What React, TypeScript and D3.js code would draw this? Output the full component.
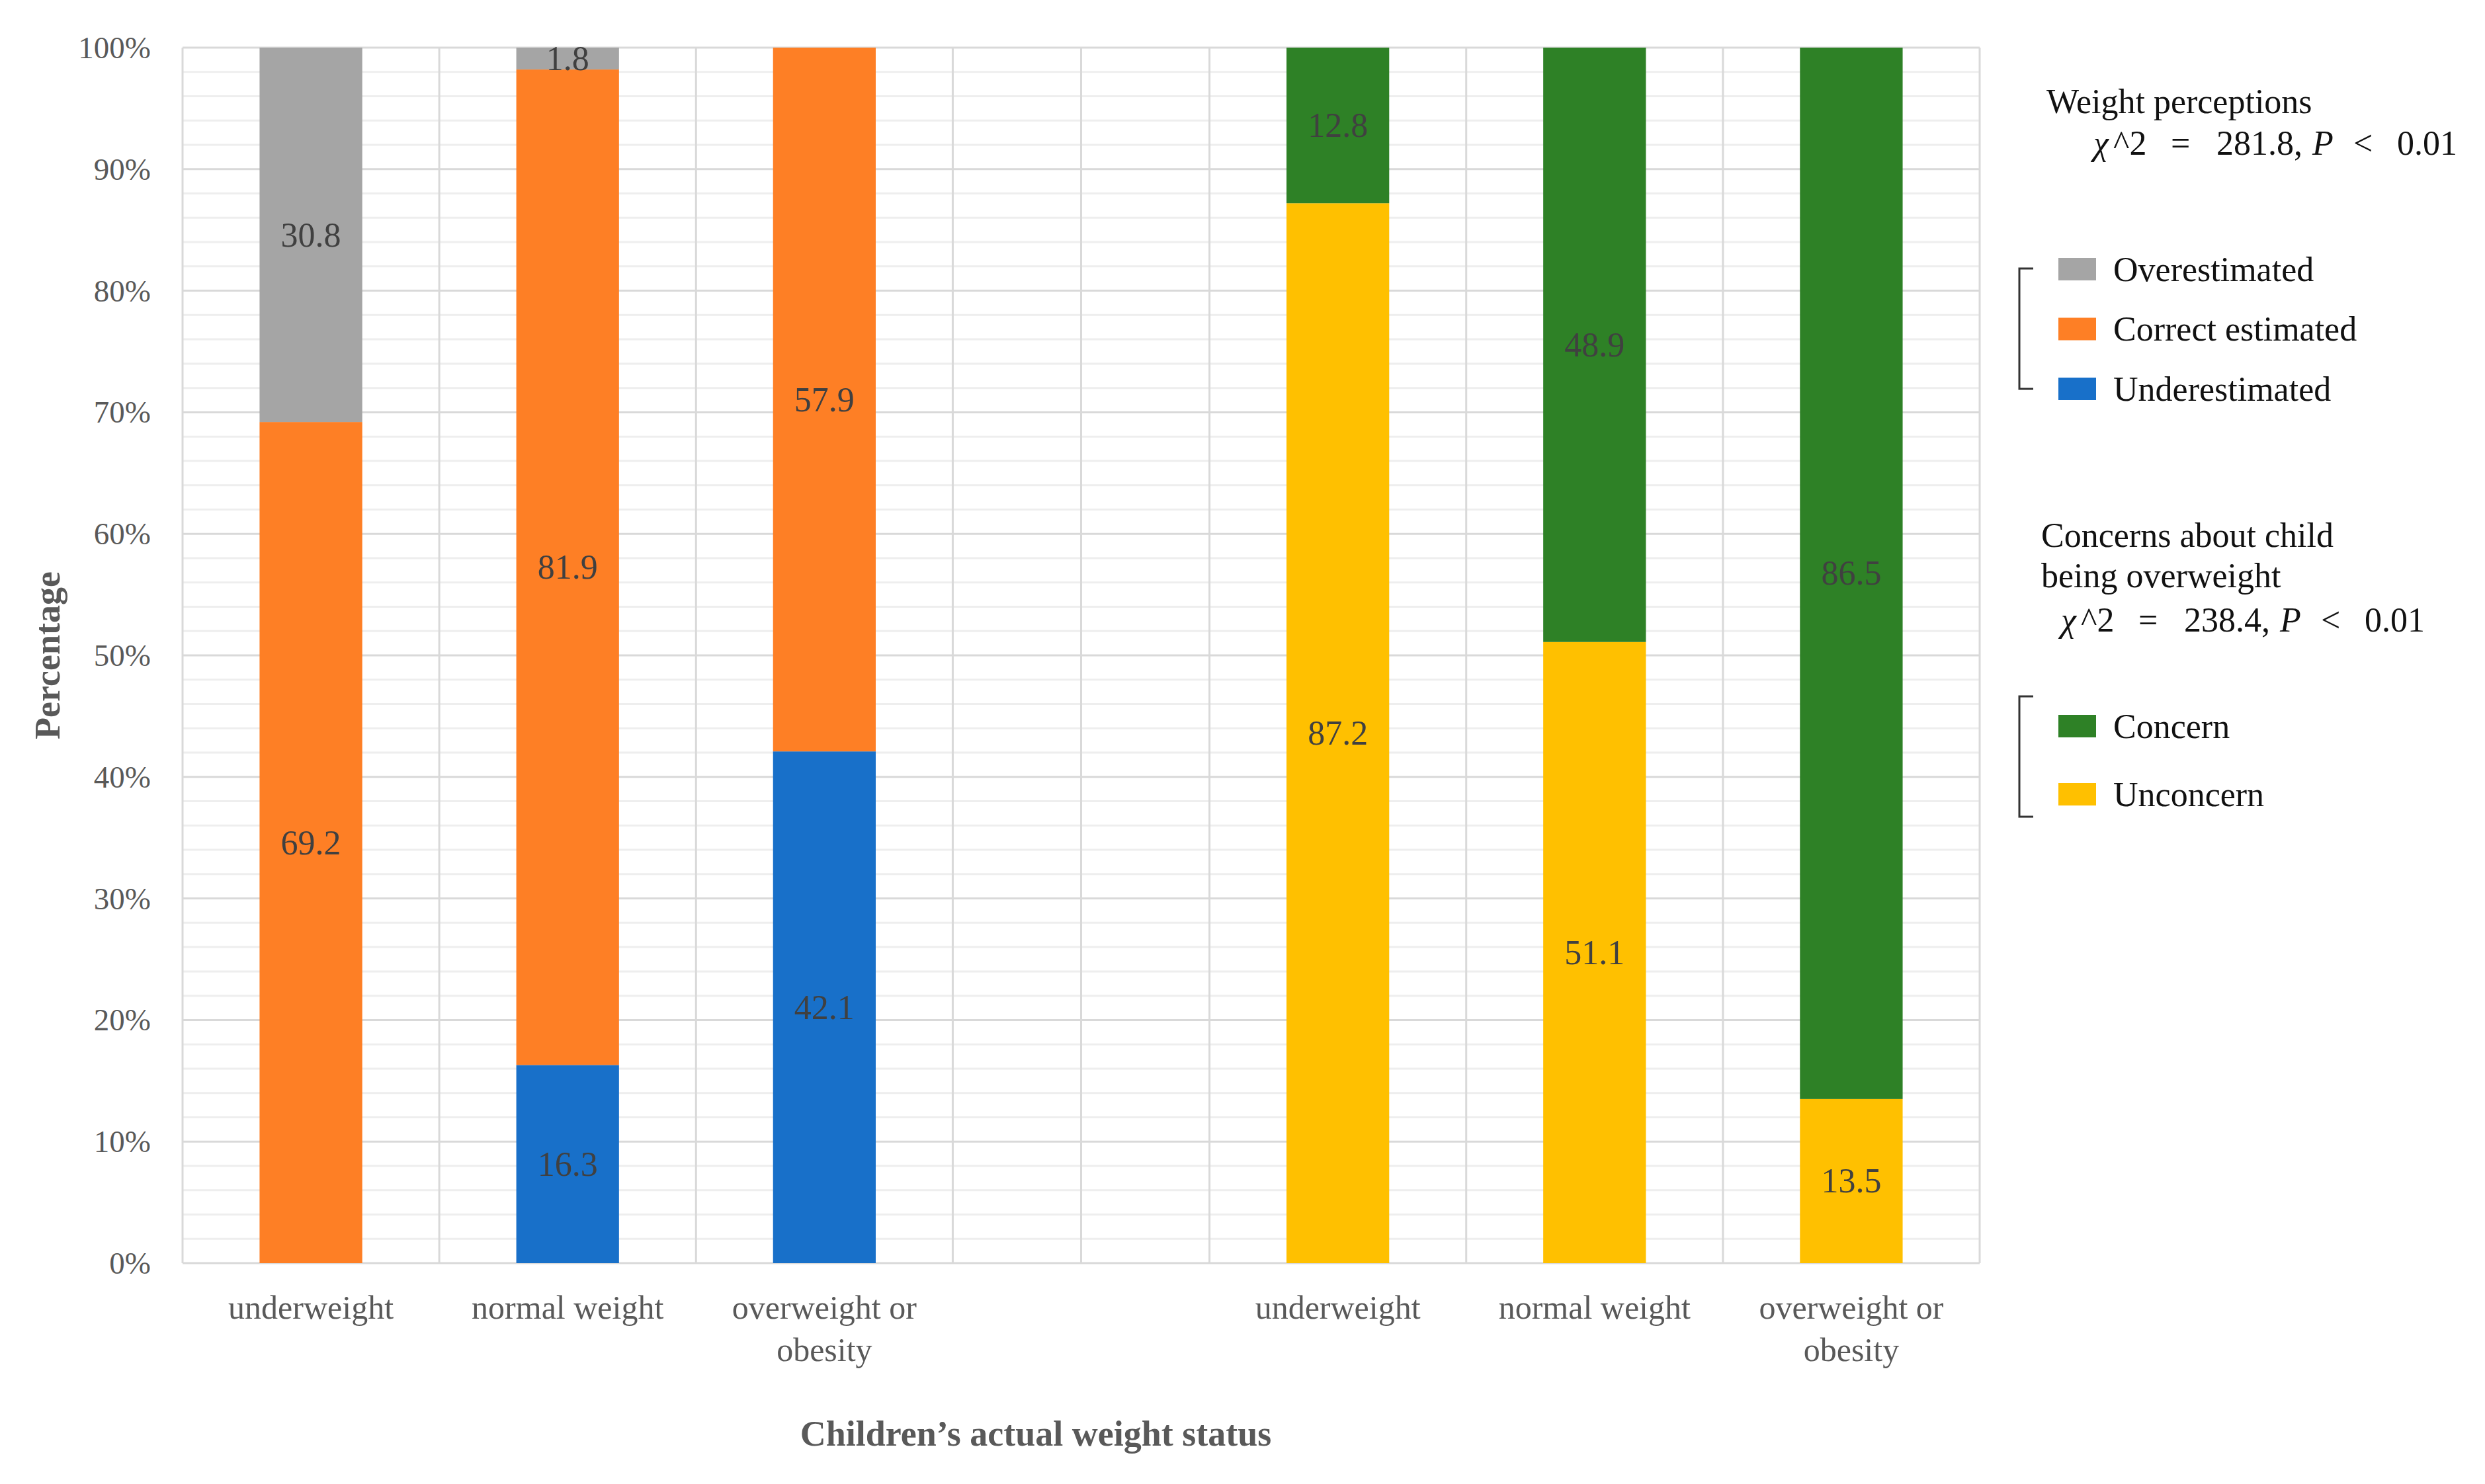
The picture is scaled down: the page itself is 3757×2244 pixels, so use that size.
import React, { useEffect } from "react";
import * as d3 from "d3";

const W = 3757;
const H = 2244;

// x categories: two groups of three with an empty slot between them
const categories = [
  "underweight",
  "normal weight",
  "overweight or\nobesity",
  "",
  "underweight",
  "normal weight",
  "overweight or\nobesity",
];
const perceptionSlots = [0, 1, 2];
const concernSlots = [4, 5, 6];

// Weight perceptions (%)
const underestimated = [0, 16.3, 42.1];
const correctEstimated = [69.2, 81.9, 57.9];
const overestimated = [30.8, 1.8, 0];

// Concerns about child being overweight (%)
const unconcern = [87.2, 51.1, 13.5];
const concern = [12.8, 48.9, 86.5];

const yTicks = [0, 10, 20, 30, 40, 50, 60, 70, 80, 90, 100];
const yTickLabels = yTicks.map((t) => `${t}%`);

const perceptionKeys = ["Underestimated", "Correct estimated", "Overestimated"];
const concernKeys = ["Unconcern", "Concern"];

const colors: Record<string, string> = {
  Overestimated: "#a5a5a5",
  "Correct estimated": "#fe7f25",
  Underestimated: "#1870c9",
  Concern: "#2e8126",
  Unconcern: "#ffc000",
};

const FONT = "'Palatino Linotype', 'Book Antiqua', Palatino, 'Liberation Serif', serif";

// chi-square line, pieces with offsets from its left edge
const chiLine = (x0: number, y0: number, stat: string) => {
  const parts: [string, number, boolean][] = [
    ["χ", 0, true],
    ["^2", 30, false],
    ["=", 117, false],
    [stat + ",", 186, false],
    ["P", 331, true],
    ["<", 393, false],
    ["0.01", 459, false],
  ];
  return (
    <text y={y0} fontSize={52} fill="#111">
      {parts.map(([t, dx, it], i) => (
        <tspan key={i} x={x0 + dx} fontStyle={it ? "italic" : "normal"}>
          {t}
        </tspan>
      ))}
    </text>
  );
};

const App = () => {
  useEffect(() => {
    document.body.style.margin = "0";
  }, []);

  const x = d3
    .scaleBand<number>()
    .domain(categories.map((_, i) => i))
    .range([276, 2993])
    .paddingInner(0.6)
    .paddingOuter(0.3);
  const y = d3.scaleLinear().domain([0, 100]).range([1910, 72]);
  const step = x.step();
  const bw = x.bandwidth();
  const cx = (i: number) => (x(i) as number) + bw / 2;

  const perceptionRows = perceptionSlots.map((slot, i) => ({
    slot,
    Underestimated: underestimated[i],
    "Correct estimated": correctEstimated[i],
    Overestimated: overestimated[i],
  }));
  const concernRows = concernSlots.map((slot, i) => ({
    slot,
    Unconcern: unconcern[i],
    Concern: concern[i],
  }));

  const pStack = d3.stack<any>().keys(perceptionKeys)(perceptionRows);
  const cStack = d3.stack<any>().keys(concernKeys)(concernRows);
  const segments: { slot: number; key: string; y0: number; y1: number; v: number }[] = [];
  [...pStack, ...cStack].forEach((s) =>
    s.forEach((d: any) => {
      const v = d[1] - d[0];
      if (v > 0) segments.push({ slot: d.data.slot, key: s.key, y0: d[0], y1: d[1], v });
    })
  );

  const minor = d3.range(0, 101, 2).filter((t) => t % 10 !== 0);
  const vLines = categories
    .map((_, i) => cx(i) - step / 2)
    .concat([cx(categories.length - 1) + step / 2, cx(3)]);

  const legendItem = (key: string, yc: number) => (
    <g key={key}>
      <rect x={3112} y={yc - 17} width={57} height={34} fill={colors[key]} />
      <text x={3195} y={yc} dominantBaseline="central" fontSize={52} fill="#111">
        {key}
      </text>
    </g>
  );

  const bracket = (y0: number, y1: number) => (
    <path d={`M3074,${y0} H3053 V${y1} H3074`} fill="none" stroke="#333" strokeWidth={3} />
  );

  return (
    <svg width={W} height={H} style={{ display: "block", fontFamily: FONT }}>
      <rect width={W} height={H} fill="#fff" />
      {/* grid */}
      {minor.map((t) => (
        <line key={"m" + t} x1={276} x2={2993} y1={y(t)} y2={y(t)} stroke="#eeeeee" strokeWidth={3} />
      ))}
      {yTicks.map((t) => (
        <line key={"M" + t} x1={276} x2={2993} y1={y(t)} y2={y(t)} stroke="#d9d9d9" strokeWidth={3} />
      ))}
      {vLines.map((vx, i) => (
        <line key={"v" + i} x1={vx} x2={vx} y1={y(100)} y2={y(0)} stroke="#d9d9d9" strokeWidth={3} />
      ))}
      {/* bars */}
      {segments.map((s, i) => (
        <rect
          key={"b" + i}
          x={x(s.slot)}
          width={bw}
          y={y(s.y1)}
          height={y(s.y0) - y(s.y1)}
          fill={colors[s.key]}
        />
      ))}
      {segments.map((s, i) => (
        <text
          key={"l" + i}
          x={cx(s.slot)}
          y={y((s.y0 + s.y1) / 2)}
          textAnchor="middle"
          dominantBaseline="central"
          fontSize={52}
          fill="#404040"
        >
          {s.v.toFixed(1)}
        </text>
      ))}
      {/* y axis labels */}
      {yTicks.map((t, i) => (
        <text
          key={"yt" + t}
          x={228}
          y={y(t)}
          textAnchor="end"
          dominantBaseline="central"
          fontSize={47}
          fill="#595959"
        >
          {yTickLabels[i]}
        </text>
      ))}
      {/* x category labels */}
      {categories.map((c, i) =>
        c.split("\n").map((line, j) => (
          <text
            key={"xc" + i + "-" + j}
            x={cx(i)}
            y={1994 + j * 64}
            textAnchor="middle"
            fontSize={50}
            fill="#595959"
          >
            {line}
          </text>
        ))
      )}
      {/* axis titles */}
      <text
        transform={`translate(72,${(y(0) + y(100)) / 2}) rotate(-90)`}
        textAnchor="middle"
        dominantBaseline="central"
        fontSize={54}
        fontWeight="bold"
        fill="#595959"
      >
        Percentage
      </text>
      <text x={1566} y={2186} textAnchor="middle" fontSize={54} fontWeight="bold" fill="#595959">
        Children’s actual weight status
      </text>
      {/* legend: weight perceptions */}
      <text x={3094} y={171} fontSize={52} fill="#111">
        Weight perceptions
      </text>
      {chiLine(3165, 234, "281.8")}
      {bracket(406, 588)}
      {["Overestimated", "Correct estimated", "Underestimated"].map((k, i) => legendItem(k, 407 + i * 90.5))}
      {/* legend: concerns */}
      <text x={3086} y={827} fontSize={52} fill="#111">
        Concerns about child
      </text>
      <text x={3086} y={888} fontSize={52} fill="#111">
        being overweight
      </text>
      {chiLine(3116, 955, "238.4")}
      {bracket(1053, 1235)}
      {["Concern", "Unconcern"].map((k, i) => legendItem(k, 1098 + i * 103))}
    </svg>
  );
};

export default App;
